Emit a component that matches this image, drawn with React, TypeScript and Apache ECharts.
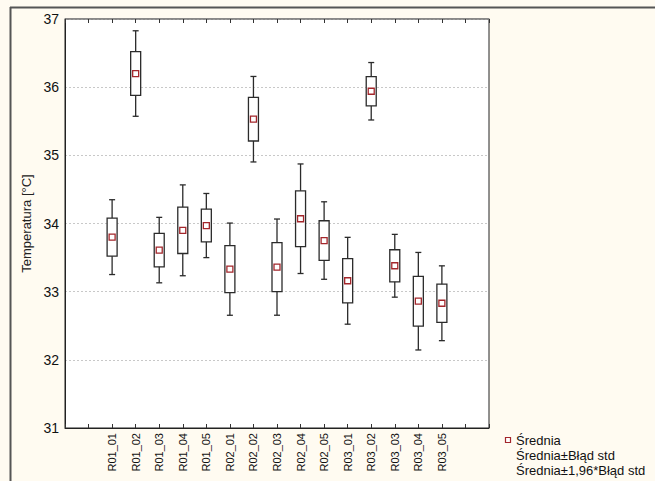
import React, { useEffect, useRef } from 'react';
import * as echarts from 'echarts';

const categories = [
  'R01_01', 'R01_02', 'R01_03', 'R01_04', 'R01_05',
  'R02_01', 'R02_02', 'R02_03', 'R02_04', 'R02_05',
  'R03_01', 'R03_02', 'R03_03', 'R03_04', 'R03_05',
];
const means = [33.80, 36.20, 33.61, 33.90, 33.97, 33.33, 35.53, 33.36, 34.07, 33.75, 33.16, 35.94, 33.38, 32.86, 32.83];
const stdErrors = [0.28, 0.32, 0.245, 0.34, 0.24, 0.345, 0.32, 0.36, 0.41, 0.29, 0.325, 0.215, 0.235, 0.365, 0.28];
const legendLabels = ['Średnia', 'Średnia±Błąd std', 'Średnia±1,96*Błąd std'];
const yAxisTitle = 'Temperatura [°C]';

const FONT = "'Liberation Sans', Arial, sans-serif";

export default function App() {
  const ref = useRef<HTMLDivElement>(null);
  useEffect(() => {
    if (!ref.current) return;
    const chart = echarts.init(ref.current, undefined, { renderer: 'svg' });
    const data = means.map((m, i) => [i + 2, m, stdErrors[i]]);
    const boxStroke = '#2b2b2b';
    chart.setOption({
      animation: false,
      backgroundColor: '#fffbf1',
      grid: {
        left: 65, top: 19, right: 166, bottom: 53,
        show: true, backgroundColor: '#ffffff', borderColor: '#222', borderWidth: 1,
      },
      xAxis: [
        {
          type: 'value', min: 0, max: 18, interval: 1, position: 'bottom',
          axisLine: { show: true, lineStyle: { color: '#222', width: 1 } },
          axisTick: { show: true, inside: true, length: 4, lineStyle: { color: '#333' } },
          splitLine: { show: false },
          axisLabel: {
            rotate: 90, fontSize: 11, color: '#111', fontFamily: FONT, margin: 5,
            formatter: (v: number) => categories[v - 2] ?? '',
          },
        },
        {
          type: 'value', min: 0, max: 18, interval: 1, position: 'top',
          axisLine: { show: true, lineStyle: { color: '#888', width: 1.5 } },
          axisTick: { show: true, inside: true, length: 4, lineStyle: { color: '#333' } },
          splitLine: { show: false },
          axisLabel: { show: false },
        },
      ],
      yAxis: {
        type: 'value', min: 31, max: 37, interval: 1,
        name: yAxisTitle, nameLocation: 'middle', nameGap: 31,
        nameTextStyle: { fontSize: 13, color: '#222', fontFamily: FONT },
        axisLine: { show: true, lineStyle: { color: '#222', width: 1 } },
        axisTick: { show: false },
        axisLabel: { fontSize: 14, color: '#111', fontFamily: FONT, margin: 6 },
        splitLine: { show: true, lineStyle: { color: '#c8c8c8', type: [2, 2], width: 1 } },
      },
      series: [
        {
          type: 'custom',
          data,
          encode: { x: 0, y: 1 },
          renderItem: (_p: any, api: any) => {
            const x = api.value(0);
            const m = api.value(1);
            const s = api.value(2);
            const [cx, yM] = api.coord([x, m]);
            const yH1 = api.coord([x, m + s])[1];
            const yL1 = api.coord([x, m - s])[1];
            const yH2 = api.coord([x, m + 1.96 * s])[1];
            const yL2 = api.coord([x, m - 1.96 * s])[1];
            const ls = { stroke: boxStroke, lineWidth: 1.3 };
            return {
              type: 'group',
              children: [
                { type: 'line', shape: { x1: cx, y1: yH2, x2: cx, y2: yL2 }, style: ls },
                { type: 'line', shape: { x1: cx - 3, y1: yH2, x2: cx + 3, y2: yH2 }, style: ls },
                { type: 'line', shape: { x1: cx - 3, y1: yL2, x2: cx + 3, y2: yL2 }, style: ls },
                { type: 'rect', shape: { x: cx - 5, y: yH1, width: 10, height: yL1 - yH1 }, style: { fill: '#fff', stroke: boxStroke, lineWidth: 1.3 } },
                { type: 'rect', shape: { x: cx - 3, y: yM - 3, width: 6, height: 6 }, style: { fill: '#fff', stroke: '#a3262b', lineWidth: 1.3 } },
              ],
            };
          },
        },
      ],
      graphic: [
        { type: 'line', shape: { x1: 10, y1: 7.5, x2: 655, y2: 7.5 }, style: { stroke: '#555', lineWidth: 2 } },
        { type: 'line', shape: { x1: 10.5, y1: 7, x2: 10.5, y2: 481 }, style: { stroke: '#555', lineWidth: 2 } },
        { type: 'rect', shape: { x: 505.5, y: 437.5, width: 5, height: 5 }, style: { fill: '#fff', stroke: '#a3262b', lineWidth: 1.2 } },
        ...legendLabels.map((t, i) => ({
          type: 'text', x: 516, y: 440 + i * 15,
          style: { text: t, fontSize: 13, fill: '#111', fontFamily: FONT, verticalAlign: 'middle' },
        })),
      ],
    });
    return () => chart.dispose();
  }, []);
  return (
    <div
      ref={ref}
      style={{ position: 'absolute', left: 0, top: 0, width: 655, height: 481 }}
    />
  );
}
